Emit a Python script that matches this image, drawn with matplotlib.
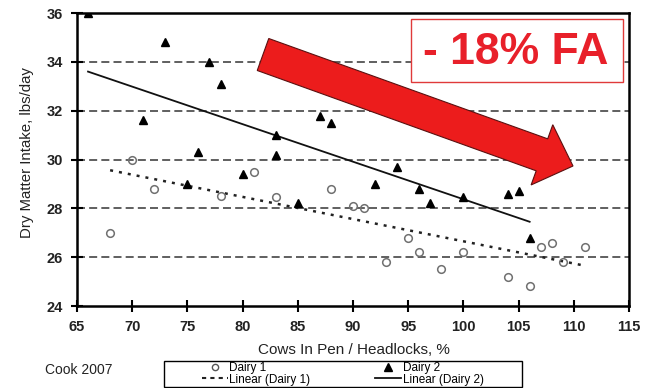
import numpy as np
import matplotlib
matplotlib.use("Agg")
import matplotlib.pyplot as plt
from matplotlib.patches import Polygon, Rectangle
from matplotlib.lines import Line2D

plt.rcParams["font.family"] = ["Liberation Sans", "DejaVu Sans"]

# Dairy 1 (open circles)
d1_x = [68, 70, 72, 78, 81, 83, 88, 90, 91, 93, 95, 96, 98, 100, 104, 106, 107, 108, 109, 111]
d1_y = [27.0, 30.0, 28.8, 28.5, 29.5, 28.45, 28.8, 28.1, 28.0, 25.8, 26.8, 26.2, 25.5, 26.2,
        25.2, 24.8, 26.4, 26.6, 25.8, 26.4]

# Dairy 2 (filled triangles)
d2_x = [66, 71, 73, 75, 76, 77, 78, 80, 83, 83, 85, 87, 88, 92, 94, 96, 97, 100, 104, 105, 106]
d2_y = [36.0, 31.6, 34.8, 29.0, 30.3, 34.0, 33.1, 29.4, 31.0, 30.2, 28.2, 31.8, 31.5, 29.0,
        29.7, 28.8, 28.2, 28.45, 28.6, 28.7, 26.8]

# linear trend lines (ends)
fit1_x = [68, 111]
fit1_y = [29.56, 25.65]
fit2_x = [66, 106]
fit2_y = [33.6, 27.45]

x_ticks = list(range(65, 116, 5))
y_ticks = list(range(24, 37, 2))
grid_y = [26, 28, 30, 32, 34]

W, H = 646, 388
fig = plt.figure(figsize=(W / 100, H / 100), dpi=100)
ax = fig.add_axes([77 / W, 1 - 306 / H, (629 - 77) / W, (306 - 13) / H])


def px(x, y):
    # figure pixel (y down) -> figure fraction
    return (x / W, 1 - y / H)


for g in grid_y:
    ax.axhline(g, color="#444444", lw=1.2, dashes=(4.8, 2.5), zorder=1)

ax.plot(d1_x, d1_y, "o", ms=5.5, mfc="none", mec="#707070", mew=1.1, zorder=3)
ax.plot(d2_x, d2_y, "^", ms=6, color="black", zorder=3)

ax.plot(fit1_x, fit1_y, color="#222222", lw=1.8, dashes=(1.2, 2.4), zorder=2)
ax.plot(fit2_x, fit2_y, color="#111111", lw=1.3, zorder=2)

ax.set_xlim(65, 115)
ax.set_ylim(24, 36)
ax.set_xticks(x_ticks)
ax.set_yticks(y_ticks)
for s in ax.spines.values():
    s.set_linewidth(1.8)
ax.tick_params(direction="inout", length=8, width=1.5, pad=6,
               labelsize=10.5, labelcolor="#222222")
for lab in ax.get_xticklabels() + ax.get_yticklabels():
    lab.set_fontweight("bold")

fig.text(*px(27, 153), "Dry Matter Intake, lbs/day", rotation=90, ha="center", va="center",
         fontsize=10.8, color="#222222")
fig.text(*px(354, 350), "Cows In Pen / Headlocks, %", ha="center", va="center",
         fontsize=11, color="#222222")
fig.text(*px(45, 370), "Cook 2007", ha="left", va="center", fontsize=10, color="#222222")

# legend box
fig.patches.append(Rectangle(px(164, 387), (522 - 164) / W, (387 - 361) / H,
                             transform=fig.transFigure, fill=False, ec="black", lw=1))
handles = [
    Line2D([], [], ls="none", marker="o", ms=4.5, mfc="none", mec="#555555"),
    Line2D([], [], color="#222222", lw=1.5, dashes=(2, 2)),
    Line2D([], [], ls="none", marker="^", ms=5.5, color="black"),
    Line2D([], [], color="#111111", lw=1.3),
]
labels = ["Dairy 1", "Linear (Dairy 1)", "Dairy 2", "Linear (Dairy 2)"]
fig.legend(handles, labels, ncol=2, loc="upper left", bbox_to_anchor=px(201, 361),
           frameon=False, fontsize=8.5, borderpad=0.1, borderaxespad=0,
           handlelength=2.2, handletextpad=0.1, columnspacing=5.5, labelspacing=-0.05)

# red arrow
T = np.array([263.0, 54.5])
P = np.array([573.0, 166.0])
u = (P - T) / np.linalg.norm(P - T)
n = np.array([-u[1], u[0]])
B = P - u * 33
pts = [T + n * 17, B + n * 17, B + n * 32, P, B - n * 32, B - n * 17, T - n * 17]
fig.patches.append(Polygon([px(*p) for p in pts], closed=True, transform=fig.transFigure,
                           fc="#ec1c1c", ec="#5a1010", lw=0.8, zorder=5))

# "- 18% FA" box
fig.patches.append(Rectangle(px(411, 82), (623 - 411) / W, (82 - 19) / H,
                             transform=fig.transFigure, fc="white", ec="#e03a3a", lw=1, zorder=5))
fig.text(*px(516, 52), "- 18% FA", ha="center", va="center", fontsize=32,
         fontweight="bold", color="#e8202a", zorder=6)

fig.savefig("out.png", dpi=100)
